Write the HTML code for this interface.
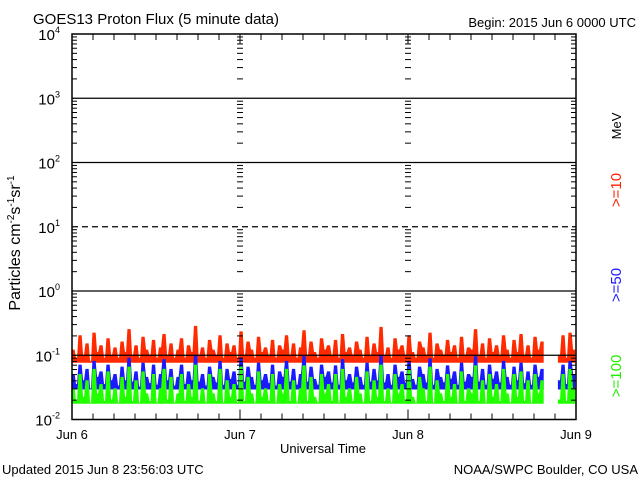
<!DOCTYPE html>
<html><head><meta charset="utf-8"><style>
html,body{margin:0;padding:0;background:#fff;}
svg{display:block;font-family:"Liberation Sans",sans-serif;}
</style></head><body>
<svg id="chart" width="640" height="480" viewBox="0 0 640 480" xmlns="http://www.w3.org/2000/svg">
<rect width="640" height="480" fill="#fff"/>
<text x="33" y="24" font-size="15">GOES13 Proton Flux (5 minute data)</text>
<text x="636" y="27" font-size="13" text-anchor="end">Begin: 2015 Jun 6 0000 UTC</text>
<text transform="translate(20,243) rotate(-90)" font-size="16" text-anchor="middle">Particles cm<tspan dy="-6" font-size="10">-2</tspan><tspan dy="6">s</tspan><tspan dy="-6" font-size="10">-1</tspan><tspan dy="6">sr</tspan><tspan dy="-6" font-size="10">-1</tspan></text>
<g id="series"></g>
<g id="grid"></g>
<rect x="72" y="34" width="504" height="385.5" fill="none" stroke="#000" stroke-width="1.5"/>
<g id="ylabels"></g>
<g id="xlabels"></g>
<text x="323" y="453" font-size="13" text-anchor="middle">Universal Time</text>
<text transform="translate(621,126) rotate(-90)" font-size="13" text-anchor="middle">MeV</text>
<text transform="translate(621,190) rotate(-90)" font-size="15" fill="#ff2000" text-anchor="middle">&gt;=10</text>
<text transform="translate(621,285) rotate(-90)" font-size="15" fill="#1a1aff" text-anchor="middle">&gt;=50</text>
<text transform="translate(621,376) rotate(-90)" font-size="15" fill="#22ee00" text-anchor="middle">&gt;=100</text>
<text x="2" y="474" font-size="13">Updated 2015 Jun  8 23:56:03 UTC</text>
<text x="638" y="474" font-size="13" text-anchor="end">NOAA/SWPC Boulder, CO USA</text>
</svg>
<script>
const dayLabels = ["Jun 6","Jun 7","Jun 8","Jun 9"];
const decadeExps = [-2,-1,0,1,2,3,4];
const redA = [.12,.09,.2,.1,.15,.08,.22,.11,.14,.09,.18,.1,.13,.09,.16,
.11,.25,.1,.14,.09,.19,.12,.1,.17,.09,.13,.21,.1,.15,.09,
.12,.18,.09,.14,.11,.28,.1,.13,.09,.17,.12,.1,.2,.09,.15,
.11,.14,.09,.23,.1,.16,.12,.09,.19,.11,.13,.1,.17,.09,.14,
.12,.2,.1,.15,.09,.13,.24,.1,.16,.11,.09,.18,.12,.14,.1,
.17,.09,.21,.11,.13,.1,.16,.12,.09,.19,.1,.15,.11,.27,.1,
.13,.09,.18,.12,.14,.1,.2,.11,.09,.16,.13,.1,.22,.09,.15,
.12,.1,.17,.11,.14,.09,.19,.1,.13,.12,.25,.1,.15,.09,.18,
.11,.14,.1,.2,.12,.09,.17,.11,.21,.1,.14,.09,.19,.12,.16];
const blueA = [.05,.035,.07,.04,.06,.03,.08,.045,.055,.035,.07,.04,.05,.033,.065,
.04,.09,.038,.055,.032,.075,.045,.036,.07,.034,.05,.085,.04,.06,.033,
.045,.07,.035,.055,.04,.1,.038,.05,.033,.065,.045,.037,.08,.034,.06,
.042,.055,.034,.09,.038,.065,.045,.034,.075,.04,.05,.036,.07,.033,.055,
.045,.08,.038,.06,.034,.05,.095,.038,.065,.042,.034,.07,.045,.055,.037,
.068,.034,.085,.04,.05,.037,.065,.045,.034,.075,.038,.06,.04,.1,.037,
.05,.034,.07,.045,.055,.037,.08,.042,.034,.065,.05,.037,.088,.034,.06,
.045,.037,.068,.042,.055,.034,.075,.038,.05,.045,.095,.038,.06,.034,.07,
.042,.055,.037,.08,.045,.034,.065,.04,.075,.036,.055,.034,.07,.045,.06];
const greenA = [.03,.019,.05,.022,.04,.018,.06,.025,.035,.019,.055,.02,.03,.018,.045,
.022,.065,.019,.04,.018,.055,.025,.019,.05,.018,.03,.06,.02,.045,.018,
.025,.05,.019,.035,.022,.07,.019,.03,.018,.05,.025,.019,.06,.018,.04,
.022,.035,.018,.065,.019,.045,.025,.018,.055,.022,.03,.019,.05,.018,.035,
.025,.06,.019,.04,.018,.03,.068,.019,.045,.022,.018,.05,.025,.035,.019,
.05,.018,.06,.022,.03,.019,.045,.025,.018,.055,.019,.04,.022,.07,.019,
.03,.018,.05,.025,.035,.019,.06,.022,.018,.045,.03,.019,.065,.018,.04,
.025,.019,.05,.022,.035,.018,.055,.019,.03,.025,.068,.019,.04,.018,.05,
.022,.035,.019,.06,.025,.018,.05,.022,.055,.019,.04,.018,.05,.025,.04];
const redB = [.1,.2,.09,.22,.12];
const blueB = [.04,.07,.035,.08,.05];
const greenB = [.02,.05,.019,.06,.03];
const redFloor = 0.078, blueFloor = 0.03, greenFloor = 0.018;
const stepHours = 0.5, segBStart = 69.5;

const NS="http://www.w3.org/2000/svg";
const X0=72,X1=576,Y0=419.5,DEC=64.25;
const xs = h => X0 + (X1-X0)*h/72;
const ys = v => Y0 - (Math.log10(v)+2)*DEC;
function mk(tag,attrs,parent){const e=document.createElementNS(NS,tag);for(const k in attrs)e.setAttribute(k,attrs[k]);parent.appendChild(e);return e;}
const grid=document.getElementById('grid'), yl=document.getElementById('ylabels'), xl=document.getElementById('xlabels'), ser=document.getElementById('series');

decadeExps.forEach(ex=>{
  const y=Y0-(ex+2)*DEC;
  if(ex>-2&&ex<4){
    const l=mk('line',{x1:X0,x2:X1,y1:y,y2:y,stroke:'#000','stroke-width':1.3,'stroke-dasharray':ex===1?'6,4':'none'},grid);
    
    
  }
  if(ex<4){
    for(let m=2;m<=9;m++){
      const yy=y-Math.log10(m)*DEC;
      [X0,xs(24),xs(48),X1].forEach((xx,i)=>{
        const len=5;
        const t=mk('line',{x1:i===3?X1-len:(i===0?X0:xx-3),x2:i===3?X1:(i===0?X0+len:xx+3),y1:yy,y2:yy,stroke:'#000','stroke-width':1},grid);
        
        
      });
    }
  }
  const tx=mk('text',{x:60,y:y+6,'font-size':15,'text-anchor':'end'},yl);
  tx.textContent='10';
  const sp=mk('tspan',{dy:-7,'font-size':9},tx);
  sp.textContent=String(ex);
  
  
});
for(let h=3;h<72;h+=3){
  const x=xs(h), major=h%24===0;
  [[Y0,Y0-(major?10:6)],[34,34+(major?10:6)]].forEach(p=>{
    const t=mk('line',{x1:x,x2:x,y1:p[0],y2:p[1],stroke:'#000','stroke-width':1},grid);
    
    
  });
}
dayLabels.forEach((d,i)=>{
  const t=mk('text',{x:xs(i*24),y:439,'font-size':13,'text-anchor':'middle'},xl);
  t.textContent=d;
  
  
});
function draw(arr,start,color,name,floor){
  const yb=ys(floor);
  let pts=[xs(start)+','+yb];
  arr.forEach((v,i)=>{const h=start+i*stepHours;pts.push(xs(h)+','+ys(v));pts.push(xs(h+stepHours*0.6)+','+ys(v));});
  pts.push(xs(start+arr.length*stepHours-stepHours*0.4)+','+yb);
  const p=mk('polygon',{points:pts.join(' '),fill:color,stroke:color,'stroke-width':1.2,'stroke-linejoin':'miter'},ser);
  
  
}
draw(redA,0,'#ff2a00','series-ge10',redFloor);
draw(redB,segBStart,'#ff2a00','series-ge10-late',redFloor);
draw(blueA,0,'#1a1aff','series-ge50',blueFloor);
draw(blueB,segBStart,'#1a1aff','series-ge50-late',blueFloor);
draw(greenA,0,'#22ff00','series-ge100',greenFloor);
draw(greenB,segBStart,'#22ff00','series-ge100-late',greenFloor);
</script>
</body></html>
